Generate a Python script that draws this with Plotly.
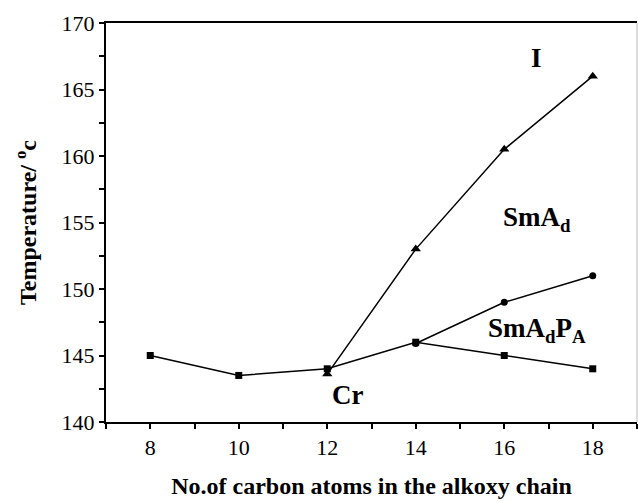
import plotly.graph_objects as go

# Number of carbon atoms in the alkoxy chain
carbons_cr = [8, 10, 12, 14, 16, 18]
# Crystal melting temperatures (square markers)
temp_cr = [145.0, 143.5, 144.0, 146.0, 145.0, 144.0]

carbons_smap = [14, 16, 18]
# SmAdPA -> SmAd transition (circle markers)
temp_smap = [145.9, 149.0, 151.0]

carbons_iso = [12, 14, 16, 18]
# Clearing temperatures (triangle markers)
temp_iso = [143.6, 153.0, 160.5, 166.0]

# Axis ticks: labelled majors plus unlabelled intermediate ticks
x_ticks = [7, 8, 9, 10, 11, 12, 13, 14, 15, 16, 17, 18, 19]
x_ticktext = ["", "8", "", "10", "", "12", "", "14", "", "16", "", "18", ""]
y_ticks = [140, 142.5, 145, 147.5, 150, 152.5, 155, 157.5, 160, 162.5, 165, 167.5, 170]
y_ticktext = ["140", "", "145", "", "150", "", "155", "", "160", "", "165", "", "170"]

# Phase region labels
phase_text = ["I", "SmA<sub>d</sub>", "SmA<sub>d</sub>P<sub>A</sub>", "Cr"]
phase_x = [16.73, 16.73, 16.73, 12.46]
phase_y = [167.4, 155.3, 146.9, 142.0]

serif = "Liberation Serif"
line_style = dict(color="black", width=1.5)

fig = go.Figure()
fig.add_trace(go.Scatter(x=carbons_iso, y=temp_iso, mode="lines+markers",
                         line=line_style,
                         marker=dict(symbol="triangle-up", size=9, color="black")))
fig.add_trace(go.Scatter(x=carbons_smap, y=temp_smap, mode="lines+markers",
                         line=line_style,
                         marker=dict(symbol="circle", size=7, color="black")))
fig.add_trace(go.Scatter(x=carbons_cr, y=temp_cr, mode="lines+markers",
                         line=line_style,
                         marker=dict(symbol="square", size=7, color="black")))

for t, x, y in zip(phase_text, phase_x, phase_y):
    fig.add_annotation(x=x, y=y, text=f"<b>{t}</b>", showarrow=False,
                       font=dict(family=serif, size=27, color="black"))

fig.add_shape(type="line", xref="paper", yref="paper", x0=1, x1=1, y0=0, y1=1,
              line=dict(color="#bbbbbb", width=1))

tick_font = dict(family=serif, size=22, color="black")
title_font = dict(family=serif, size=24, color="black")

fig.update_layout(
    width=638, height=502,
    margin=dict(l=106, r=1, t=23, b=80),
    paper_bgcolor="white", plot_bgcolor="white",
    showlegend=False,
    xaxis=dict(range=[7, 19], tickmode="array", tickvals=x_ticks, ticktext=x_ticktext,
               tickfont=tick_font,
               showgrid=False, zeroline=False,
               showline=True, linecolor="black", linewidth=2, mirror=True,
               ticks="outside", ticklen=5, tickwidth=2, tickcolor="black",
               title=dict(text="<b>No.of carbon atoms in the alkoxy chain</b>",
                          font=title_font, standoff=18)),
    yaxis=dict(range=[140, 170], tickmode="array", tickvals=y_ticks, ticktext=y_ticktext,
               tickfont=tick_font,
               showgrid=False, zeroline=False,
               showline=True, linecolor="black", linewidth=2,
               ticks="outside", ticklen=5, tickwidth=2, tickcolor="black",
               title=dict(text="<b>Temperature/ <sup>o</sup>c</b>",
                          font=title_font, standoff=18)),
)

fig.write_html("out.html")
